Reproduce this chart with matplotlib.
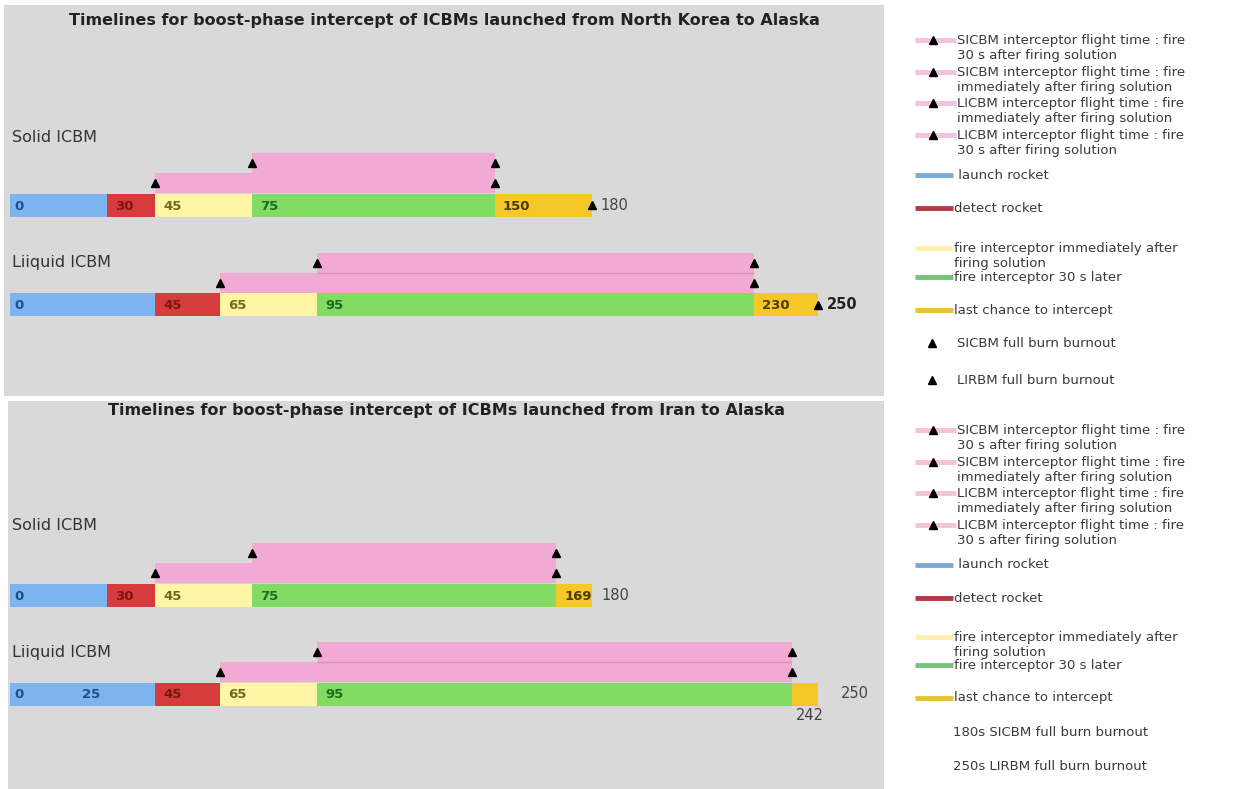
import matplotlib.pyplot as plt

# segment boundaries (s): launch, detect, fire now, fire 30 s later, last chance, burnout
nk_solid = [0, 30, 45, 75, 150, 180]
nk_liquid = [0, 45, 65, 95, 230, 250]
ir_solid = [0, 30, 45, 75, 169, 180]
ir_liquid = [0, 45, 65, 95, 242, 250]

titles = ["Timelines for boost-phase intercept of ICBMs launched from North Korea to Alaska",
          "Timelines for boost-phase intercept of ICBMs launched from Iran to Alaska"]
row_names = ["Solid ICBM", "Liiquid ICBM"]

legend_labels = ["SICBM interceptor flight time : fire\n30 s after firing solution",
                 "SICBM interceptor flight time : fire\nimmediately after firing solution",
                 "LICBM interceptor flight time : fire\nimmediately after firing solution",
                 "LICBM interceptor flight time : fire\n30 s after firing solution",
                 " launch rocket",
                 "detect rocket",
                 "fire interceptor immediately after\nfiring solution",
                 "fire interceptor 30 s later",
                 "last chance to intercept"]
burnout_top = ["SICBM full burn burnout", "LIRBM full burn burnout"]
burnout_bottom = ["180s SICBM full burn burnout", "250s LIRBM full burn burnout"]

seg_colors = ['#7db4f0', '#d73c3c', '#fff5a5', '#82dc64', '#f5c828']
txt_colors = ['#1d4f8c', '#7a1515', '#6e6a1e', '#1f6a1f', '#4a3a08']
leg_colors = ['#7aaad8', '#b33a45', '#fff0b0', '#74c474', '#e6c232']
pink = '#f1aad3'
bg = '#d9d9d9'

W, H = 1243, 789
K = 3.233      # px per second
X0 = 10        # px of t=0

fig = plt.figure(figsize=(W / 100, H / 100), dpi=100)


def panel(box, title, title_y, rows, end_markers):
    l, t, r, b = box
    ax = fig.add_axes([l / W, 1 - b / H, (r - l) / W, (b - t) / H])
    ax.set_xlim((l - X0) / K, (r - X0) / K)
    ax.set_ylim(b, t)
    ax.axis('off')
    ax.add_patch(plt.Rectangle((0, 0), 1, 1, transform=ax.transAxes, color=bg, zorder=0))
    ax.text(0.5, title_y, title, transform=ax.get_yaxis_transform(), ha='center',
            va='center', fontsize=11.5, fontweight='bold', color='#222222')
    for name, name_y, y, bounds, labels, split_line in rows:
        ax.text(bounds[0] + 0.5, name_y, name, fontsize=11.5, va='center', color='#333333')
        for i in range(5):
            ax.barh(y, bounds[i + 1] - bounds[i], left=bounds[i], height=23,
                    color=seg_colors[i], zorder=2)
        for i, lab in labels:
            ax.text(bounds[i] + (2.5 if lab != '0' else 1.5), y + 1, lab, fontsize=9.5,
                    fontweight='bold', va='center', color=txt_colors[i], zorder=3)
        # interceptor flight times: fire now (lower) and 30 s later (upper)
        for start, yy in ((bounds[2], y - 22), (bounds[3], y - 42)):
            ax.barh(yy, bounds[4] - start, left=start, height=20, color=pink, zorder=2)
            ax.plot([start, bounds[4]], [yy, yy], ls='none', marker='^', ms=6,
                    color='black', zorder=4)
        if split_line:
            ax.hlines(y - 32, bounds[3], bounds[4], color='#d98fbb', lw=1, zorder=3)
        if end_markers:
            ax.plot(bounds[5], y, ls='none', marker='^', ms=6, color='black', zorder=4)
    return ax


ax1 = panel((4, 5, 884, 396), titles[0], 20,
            [(row_names[0], 137, 205, nk_solid,
              [(0, '0'), (1, '30'), (2, '45'), (3, '75'), (4, '150')], False),
             (row_names[1], 263, 305, nk_liquid,
              [(0, '0'), (1, '45'), (2, '65'), (3, '95'), (4, '230')], True)], True)
ax1.text(nk_solid[5] + 2.5, 206, str(nk_solid[5]), fontsize=10.5, va='center', color='#444444')
ax1.text(nk_liquid[5] + 2.8, 305, str(nk_liquid[5]), fontsize=10.5, va='center',
         color='#222222', fontweight='bold')

ax2 = panel((8, 401, 884, 789), titles[1], 411,
            [(row_names[0], 525, 595, ir_solid,
              [(0, '0'), (1, '30'), (2, '45'), (3, '75'), (4, '169')], False),
             (row_names[1], 652, 694, ir_liquid,
              [(0, '0'), (1, '45'), (2, '65'), (3, '95')], True)], False)
ax2.text(ir_solid[5] + 3, 595, str(ir_solid[5]), fontsize=10.5, va='center', color='#444444')
ax2.text(25, 695, '25', fontsize=9.5, fontweight='bold', va='center', ha='center',
         color=txt_colors[0])
ax2.text(ir_liquid[5] + 7, 694, str(ir_liquid[5]), fontsize=10.5, va='center', color='#444444')
ax2.text(ir_liquid[4] + 1, 716, str(ir_liquid[4]), fontsize=10.5, va='center', color='#444444')

# legends
lg = fig.add_axes([885 / W, 0, (W - 885) / W, 1])
lg.set_xlim(885, W)
lg.set_ylim(H, 0)
lg.axis('off')


def legend(ys, burnout, burn_marker):
    for k, (lab, y) in enumerate(zip(legend_labels + burnout, ys)):
        if k < 4:
            lg.plot([915, 956], [y, y], color='#f3c2dc', lw=3.5, solid_capstyle='butt')
            lg.plot(933, y, marker='^', ms=6, color='black')
            tx = 957
        elif k < 9:
            lg.plot([915, 953], [y, y], color=leg_colors[k - 4], lw=3.5, solid_capstyle='butt')
            tx = 954
        else:
            if burn_marker:
                lg.plot(932, y, marker='^', ms=6, color='black')
                tx = 957
            else:
                tx = 953
        for j, line in enumerate(lab.split('\n')):
            lg.text(tx, y + j * 15.5, line, fontsize=9.5, va='center', color='#3a3a3a')


legend([40, 72, 103, 135, 175, 208, 248, 277, 310, 343, 380], burnout_top, True)
legend([430, 462, 493, 525, 565, 598, 637, 665, 698, 732, 767], burnout_bottom, False)

fig.savefig('out.png', dpi=100, facecolor='white')
